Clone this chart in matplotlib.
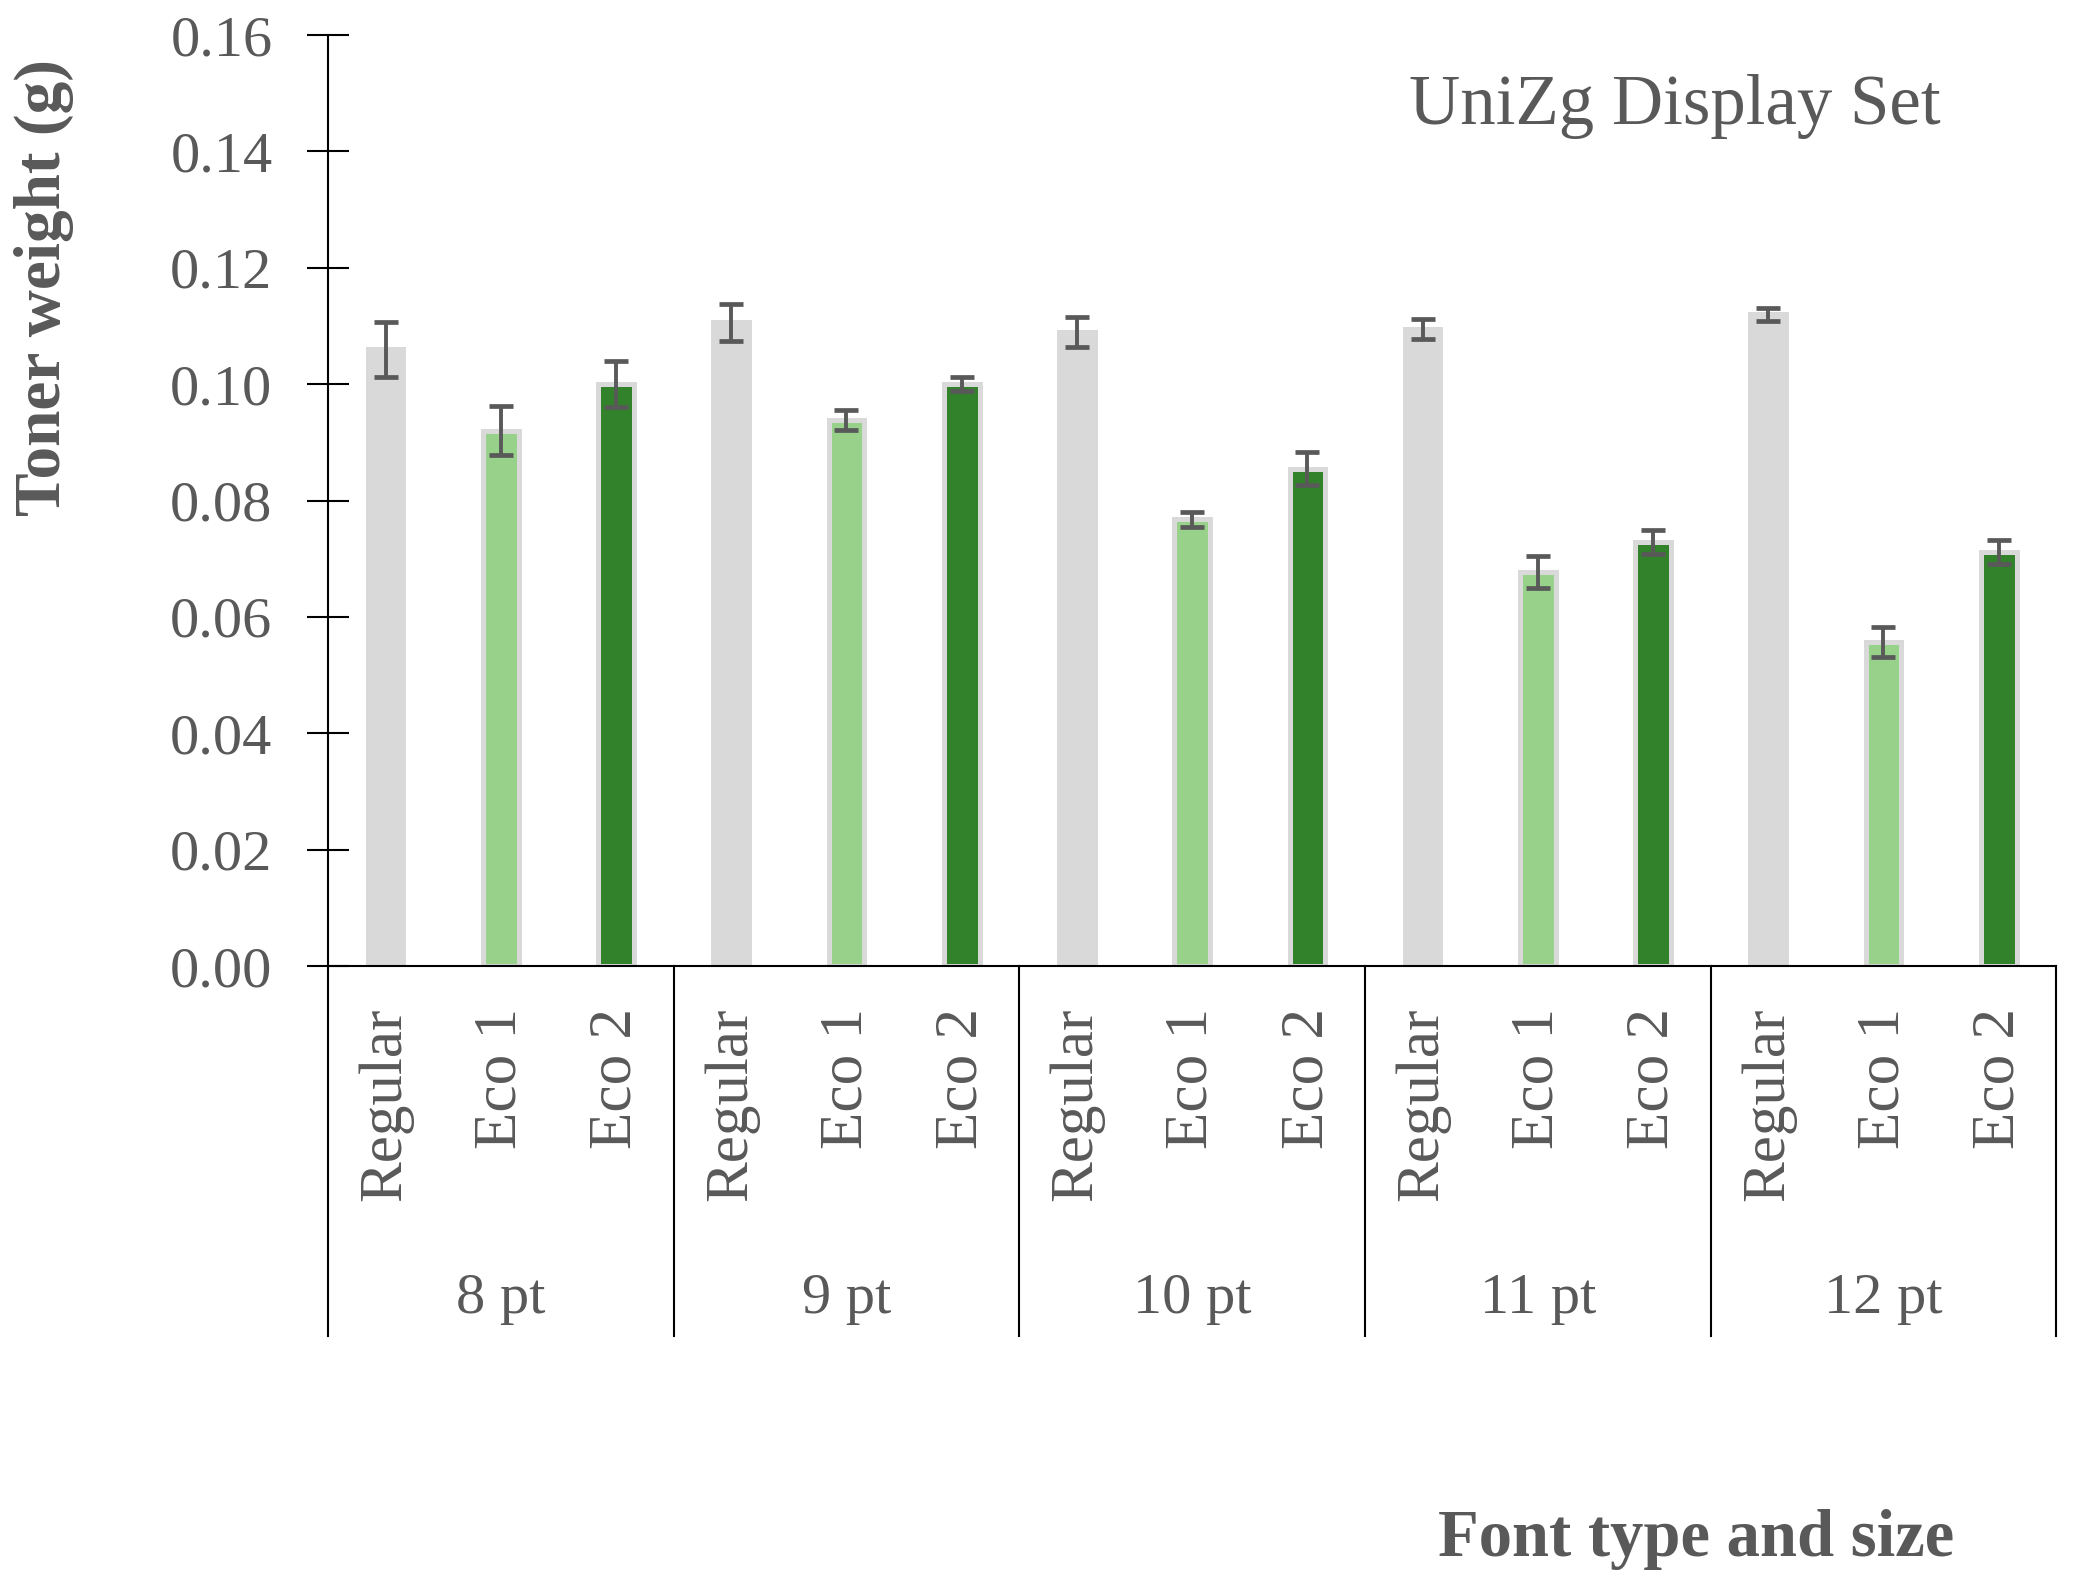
import numpy as np
import matplotlib as mpl
mpl.use('Agg')
import matplotlib.pyplot as plt
import matplotlib.transforms as mtransforms

# toner weight per font type and size, UniZg Display Set

groups = ['8 pt', '9 pt', '10 pt', '11 pt', '12 pt']
types = ['Regular', 'Eco 1', 'Eco 2']

regular = [0.1060, 0.1106, 0.1090, 0.1095, 0.1120]
eco1 = [0.0920, 0.0938, 0.0768, 0.0677, 0.0557]
eco2 = [0.1000, 0.1001, 0.0855, 0.0729, 0.0712]

regular_err = [0.0047, 0.0032, 0.0026, 0.0017, 0.0011]
eco1_err = [0.0042, 0.0017, 0.0013, 0.0028, 0.0026]
eco2_err = [0.0039, 0.0012, 0.0028, 0.0021, 0.0021]

grey_txt = '#595959'
edge = '#d9d9d9'
colors = ['#d9d9d9', '#97d18a', '#31822b']

plt.rcParams['font.family'] = ['Liberation Serif', 'DejaVu Serif']

fig = plt.figure(figsize=(20.76, 15.85), dpi=100)
ax = fig.add_axes([0.158, 0.3905, 0.8325, 0.5874])

n = len(types)
series = [(regular, regular_err), (eco1, eco1_err), (eco2, eco2_err)]
for j, (vals, errs) in enumerate(series):
    xs = np.arange(len(groups)) * n + j
    ax.bar(xs, vals, width=0.31, color=colors[j], edgecolor=edge,
           linewidth=3.6, zorder=2)
    ax.errorbar(xs, vals, yerr=errs, fmt='none', ecolor=grey_txt,
                elinewidth=2.8, capsize=8.5, capthick=3.4, zorder=3)

ax.set_xlim(-0.5, len(groups) * n - 0.5)
ax.set_ylim(0, 0.16)
ax.set_yticks(np.arange(0, 0.161, 0.02))
ax.set_yticklabels(['%.2f' % v for v in np.arange(0, 0.161, 0.02)])
ax.tick_params(axis='y', direction='inout', length=30, width=1.5,
               labelsize=42, labelcolor=grey_txt, pad=25)

xt = np.arange(len(groups) * n)
ax.set_xticks(xt)
ax.set_xticklabels(types * len(groups), rotation=90, va='top')
ax.tick_params(axis='x', length=0, labelsize=44, labelcolor=grey_txt, pad=30)

for s in ['top', 'right']:
    ax.spines[s].set_visible(False)
for s in ['left', 'bottom']:
    ax.spines[s].set_linewidth(1.5)
    ax.spines[s].set_color('black')

# group separators and group labels below the axis
trans = mtransforms.blended_transform_factory(ax.transData, ax.transAxes)
for g in range(len(groups) + 1):
    ax.plot([g * n - 0.5, g * n - 0.5], [0, -0.397], color='black', lw=1.5,
            transform=trans, clip_on=False)
for g, name in enumerate(groups):
    ax.text(g * n + 1, -0.373, name, transform=trans, ha='center',
            va='baseline', fontsize=42, color=grey_txt)

fig.text(44 / 2076, 1 - 288 / 1585, 'Toner weight (g)', rotation=90,
         ha='center', va='center', fontsize=47, fontweight='bold',
         color=grey_txt)
fig.text(1675 / 2076, 1 - 124 / 1585, 'UniZg Display Set', ha='center',
         va='baseline', fontsize=51, color=grey_txt)
fig.text(1696 / 2076, 1 - 1556 / 1585, 'Font type and size', ha='center',
         va='baseline', fontsize=48, fontweight='bold', color=grey_txt)

fig.savefig('out.png', dpi=100)
